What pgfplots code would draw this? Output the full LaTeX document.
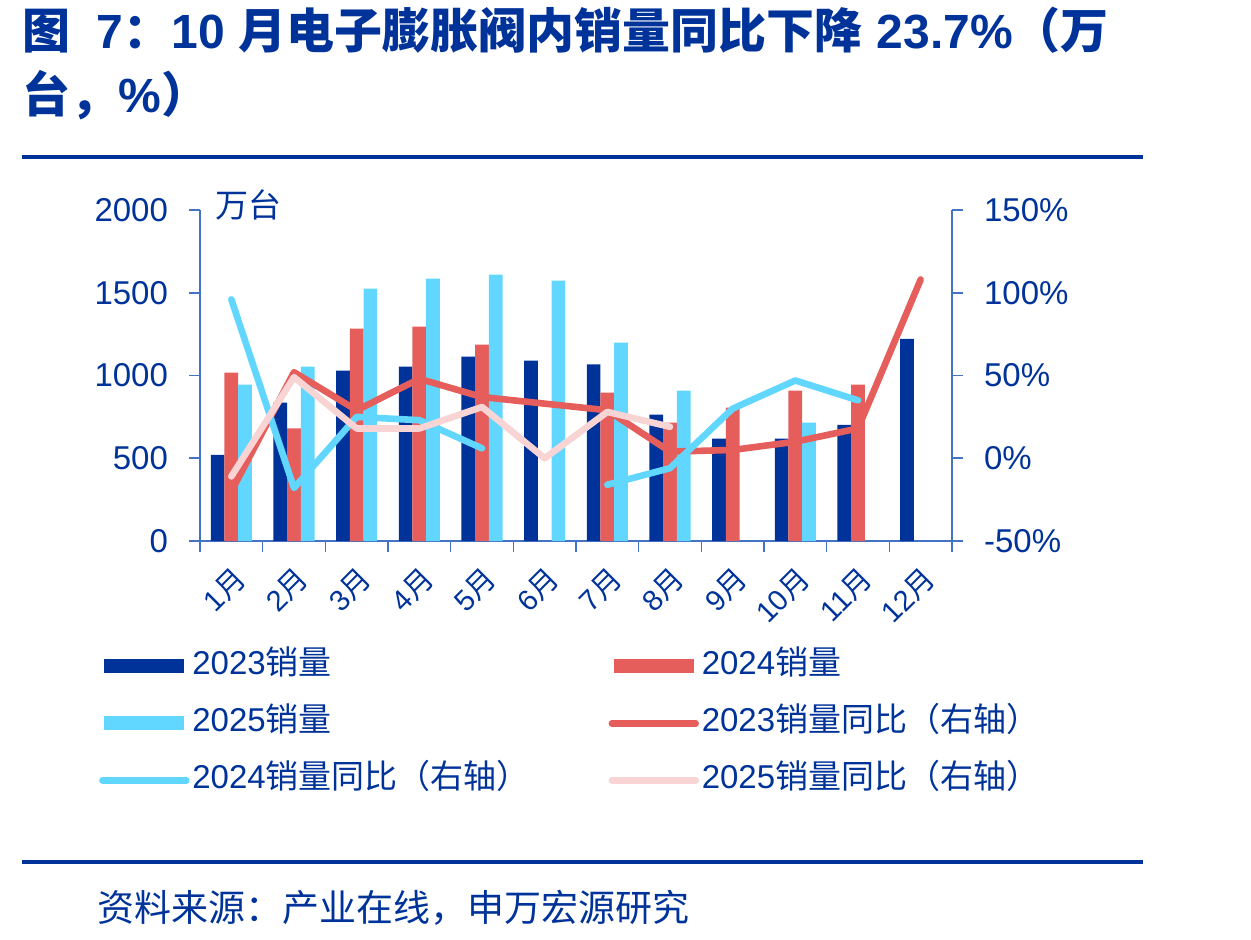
\documentclass[border=0pt]{standalone}
\usepackage{pgfplots}
\usepackage{pgfplotstable}
\pgfplotsset{compat=1.18}
\usepackage{fontspec}
\setmainfont{Liberation Sans}
\newfontfamily\cjk{Noto Sans CJK SC}
\newcommand\C[1]{{\cjk #1}}
\definecolor{dblue}{RGB}{0,51,153}
\definecolor{bred}{RGB}{229,94,92}
\definecolor{bcyan}{RGB}{97,215,255}
\definecolor{bpink}{RGB}{249,212,212}
\definecolor{axblue}{RGB}{68,114,196}
\pgfplotsset{
  legbar/.style={legend image code/.code={\draw[##1,line width=7pt] (0pt,0pt) -- (40pt,0pt);}},
  legline/.style={legend image code/.code={\draw[##1,line width=3.2pt,line cap=round] (-1pt,0pt) -- (41pt,0pt);}},
}
\pgfplotstableread{
x s23 s24 s25 y23 y24 y25
0 520 1017 945 -20 96 -11
1 836 681 1053 52 -18 49
2 1029 1283 1525 29 25 18
3 1053 1295 1585 48 23 18
4 1114 1186 1609 37 6 31
5 1090 nan 1573 33 nan 0
6 1067 896 1198 29 -16 28
7 763 715 908 4 -6 19
8 618 806 nan 5 30 nan
9 618 908 715 10 47 nan
10 701 945 nan 18 35 nan
11 1222 nan nan 108 nan nan
}\data
\begin{document}
\begin{tikzpicture}
\path[use as bounding box] (0pt,0pt) rectangle (625.5pt,469.5pt);
\node[anchor=west,inner sep=0pt,text=dblue,font=\fontsize{24}{24}\selectfont\bfseries] at (11pt,454.5pt)
  {\C{图}\hspace{0.55em}7\C{：}10\hspace{0.28em}\C{月电子膨胀阀内销量同比下降}\hspace{0.3em}23.7\%\C{（万}};
\node[anchor=west,inner sep=0pt,text=dblue,font=\fontsize{24}{24}\selectfont\bfseries] at (11pt,422pt)
  {\C{台，}\%\C{）}};
\draw[dblue,line width=2pt] (11pt,391pt) -- (571.5pt,391pt);
\draw[dblue,line width=2pt] (11pt,38.5pt) -- (571.5pt,38.5pt);
\node[anchor=west,inner sep=0pt,text=dblue,font=\fontsize{18.5}{18.5}\selectfont] at (48.5pt,15.5pt)
  {\C{资料来源：产业在线，申万宏源研究}};
\node[inner sep=0pt,text=dblue,font=\fontsize{16.5}{16.5}\selectfont] at (124pt,367pt) {\C{万台}};
\begin{axis}[
  at={(100pt,199pt)}, anchor=south west,
  scale only axis, width=376pt, height=165.5pt,
  xmin=-0.5, xmax=11.5, ymin=0, ymax=2000,
  ybar=0pt, bar width=6.85pt,
  axis x line*=bottom, axis y line*=left,
  axis line style={draw=axblue,line width=0.8pt,-},
  tick align=outside, major tick length=5.5pt,
  tick style={draw=axblue,line width=0.8pt},
  xtick={-0.5,0.5,1.5,2.5,3.5,4.5,5.5,6.5,7.5,8.5,9.5,10.5,11.5},
  x tick label as interval,
  xticklabels={1\C{月},2\C{月},3\C{月},4\C{月},5\C{月},6\C{月},7\C{月},8\C{月},9\C{月},10\C{月},11\C{月},12\C{月}},
  xticklabel style={rotate=45,anchor=east,font=\fontsize{14.5}{14.5}\selectfont,text=dblue,yshift=-11pt,xshift=-1pt},
  ytick={0,500,1000,1500,2000},
  yticklabel style={font=\fontsize{16.5}{16.5}\selectfont,text=dblue,xshift=-7pt},
  /pgf/number format/assume math mode=true,
  /pgf/number format/1000 sep={},
]
\addplot[fill=dblue,draw=none] table[x=x,y=s23] {\data};
\addplot[fill=bred,draw=none] table[x=x,y=s24] {\data};
\addplot[fill=bcyan,draw=none] table[x=x,y=s25] {\data};
\end{axis}
\begin{axis}[
  at={(100pt,199pt)}, anchor=south west,
  scale only axis, width=376pt, height=165.5pt,
  xmin=-0.5, xmax=11.5, ymin=-50, ymax=150,
  axis x line=none, axis y line*=right,
  axis line style={draw=axblue,line width=0.8pt,-},
  tick align=outside, major tick length=5.5pt,
  tick style={draw=axblue,line width=0.8pt},
  ytick={-50,0,50,100,150},
  yticklabel={\pgfmathprintnumber{\tick}\%},
  yticklabel style={font=\fontsize{16.5}{16.5}\selectfont,text=dblue,xshift=7pt},
  /pgf/number format/assume math mode=true,
  unbounded coords=jump,
  legend columns=2,
  legend style={at={(-0.137,-0.326)},anchor=north west,draw=none,fill=none,
    inner sep=0pt,font=\fontsize{16.5}{16.5}\selectfont,text=dblue,
    row sep=11.5pt,
    nodes={inner sep=0.5pt,text height=12pt,text depth=4pt},
    /tikz/every even column/.append style={column sep=38pt}},
  legend cell align=left,
]
\addlegendimage{legbar,dblue}
\addlegendentry{2023\C{销量}}
\addlegendimage{legbar,bred}
\addlegendentry{2024\C{销量}}
\addlegendimage{legbar,bcyan}
\addlegendentry{2025\C{销量}}
\addlegendimage{legline,bred}
\addlegendentry{2023\C{销量同比（右轴）}}
\addlegendimage{legline,bcyan}
\addlegendentry{2024\C{销量同比（右轴）}}
\addlegendimage{legline,bpink}
\addlegendentry{2025\C{销量同比（右轴）}}
\addplot[bred,line width=3.3pt,line cap=round,line join=round,forget plot] table[x=x,y=y23] {\data};
\addplot[bcyan,line width=3.3pt,line cap=round,line join=round,forget plot] table[x=x,y=y24] {\data};
\addplot[bpink,line width=3.3pt,line cap=round,line join=round,forget plot] table[x=x,y=y25] {\data};
\end{axis}
\end{tikzpicture}
\end{document}
